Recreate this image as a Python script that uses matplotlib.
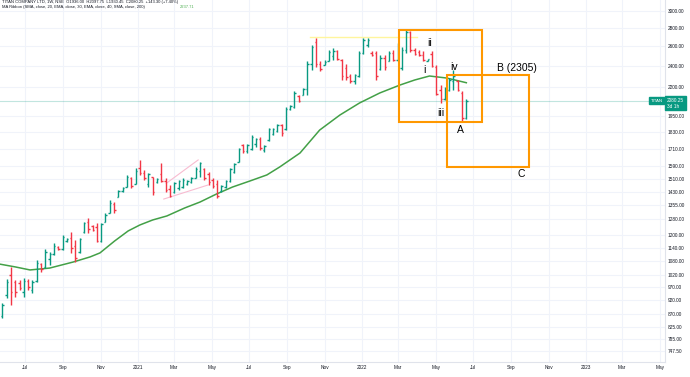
import matplotlib
matplotlib.use('Agg')
import matplotlib.pyplot as plt
import matplotlib.dates as mdates
import matplotlib.transforms as mtrans
from matplotlib.patches import Rectangle
from matplotlib.ticker import FixedLocator, FixedFormatter, NullLocator
import numpy as np
import pandas as pd

# ---------------- data ----------------
first_week = '2020-05-25'
opens = [862, 940, 1020, 990, 985, 950, 995, 960, 995, 1065,
         1055, 1090, 1110, 1145, 1135, 1170, 1185, 1150, 1120, 1215,
         1265, 1245, 1240, 1170, 1266, 1315, 1365, 1400, 1435, 1462,
         1515, 1480, 1580, 1550, 1480, 1520, 1490, 1540, 1500, 1450,
         1430, 1455, 1460, 1480, 1490, 1518, 1560, 1575, 1540, 1505,
         1480, 1435, 1460, 1495, 1555, 1620, 1735, 1690, 1710, 1740,
         1780, 1700, 1770, 1815, 1840, 1880, 1850, 2010, 2030, 2120,
         2130, 2180, 2420, 2640, 2420, 2410, 2445, 2500, 2550, 2460,
         2380, 2300, 2250, 2300, 2530, 2610, 2530, 2530, 2370, 2480,
         2450, 2530, 2460, 2380, 2560, 2750, 2560, 2540, 2510, 2450,
         2520, 2390, 2170, 2090, 2170, 2250, 2250, 2150, 1938]
highs = [910, 1003, 1053, 999, 999, 1007, 1003, 999, 1084, 1070,
         1135, 1120, 1160, 1148, 1201, 1185, 1215, 1177, 1187, 1266,
         1287, 1251, 1260, 1260, 1315, 1386, 1375, 1443, 1460, 1535,
         1525, 1578, 1632, 1566, 1548, 1525, 1516, 1612, 1516, 1473,
         1492, 1504, 1516, 1504, 1523, 1586, 1619, 1579, 1553, 1516,
         1504, 1473, 1504, 1579, 1612, 1714, 1742, 1742, 1807, 1785,
         1792, 1735, 1863, 1863, 1890, 1890, 2025, 2043, 2163, 2128,
         2190, 2445, 2611, 2686, 2445, 2455, 2558, 2580, 2558, 2465,
         2416, 2318, 2318, 2545, 2686, 2686, 2545, 2545, 2506, 2506,
         2545, 2558, 2637, 2590, 2790, 2760, 2580, 2558, 2545, 2470,
         2550, 2406, 2217, 2200, 2280, 2357, 2265, 2163, 2097.75]
lows = [857, 930, 902, 932, 959, 932, 959, 948, 991, 1033,
        1050, 1062, 1107, 1128, 1130, 1165, 1115, 1075, 1115, 1212,
        1212, 1221, 1165, 1165, 1266, 1315, 1315, 1400, 1430, 1460,
        1455, 1480, 1535, 1504, 1462, 1414, 1485, 1490, 1430, 1400,
        1425, 1443, 1455, 1473, 1485, 1516, 1523, 1504, 1473, 1455,
        1397, 1430, 1455, 1490, 1548, 1619, 1679, 1679, 1700, 1720,
        1700, 1686, 1764, 1807, 1830, 1800, 1844, 2002, 2022, 2070,
        2128, 2128, 2357, 2388, 2347, 2406, 2445, 2455, 2455, 2263,
        2263, 2235, 2230, 2290, 2520, 2590, 2496, 2263, 2357, 2357,
        2445, 2445, 2445, 2357, 2530, 2535, 2506, 2496, 2445, 2445,
        2390, 2128, 2060, 2085, 2165, 2172, 2163, 1906, 1930.45]
closes = [902, 990, 950, 950, 965, 995, 970, 990, 1070, 1045,
          1120, 1110, 1150, 1135, 1190, 1180, 1140, 1095, 1180, 1260,
          1230, 1228, 1170, 1255, 1305, 1370, 1330, 1435, 1455, 1520,
          1470, 1560, 1550, 1515, 1540, 1430, 1510, 1500, 1445, 1410,
          1485, 1495, 1505, 1500, 1515, 1575, 1610, 1515, 1490, 1470,
          1410, 1465, 1495, 1570, 1605, 1705, 1690, 1735, 1795, 1775,
          1715, 1730, 1855, 1855, 1880, 1820, 2010, 2035, 2150, 2080,
          2180, 2420, 2590, 2420, 2370, 2440, 2540, 2550, 2470, 2300,
          2290, 2250, 2310, 2530, 2660, 2670, 2505, 2300, 2480, 2390,
          2530, 2460, 2620, 2560, 2750, 2560, 2520, 2510, 2460, 2465,
          2400, 2140, 2090, 2180, 2260, 2300, 2170, 1937, 2080.25]

# moving-average line (at sample dates)
ma_dates = ['2020-05-21', '2020-06-15', '2020-07-09', '2020-08-10', '2020-09-17',
            '2020-10-15', '2020-10-31', '2020-11-24', '2020-12-16', '2021-01-04',
            '2021-01-25', '2021-02-17', '2021-03-18', '2021-04-12', '2021-05-09',
            '2021-06-04', '2021-07-02', '2021-07-30', '2021-08-20', '2021-09-22',
            '2021-10-24', '2021-11-26', '2021-12-28', '2022-01-30', '2022-03-04',
            '2022-03-28', '2022-04-21', '2022-05-19', '2022-06-20']
ma_values = [1066, 1054, 1041, 1049, 1075, 1098, 1116, 1172, 1221, 1251,
             1277, 1298, 1341, 1374, 1420, 1461, 1497, 1535, 1586, 1679,
             1844, 1961, 2060, 2146, 2217, 2263, 2300, 2281, 2237.71]

price_ticks = [3000, 2800, 2600, 2400, 2200, 1950, 1830, 1710, 1590, 1510,
               1430, 1355, 1280, 1200, 1140, 1080, 1020, 970, 920, 870,
               825, 785, 747.5]

# wave-count boxes: (start, end, top, bottom)
box1 = ('2022-03-03', '2022-07-15', 2776, 1906)
box2 = ('2022-05-19', '2022-09-30', 2309, 1586)
wave_labels = [('ii', '2022-04-21', 2631), ('i', '2022-04-13', 2357),
               ('iv', '2022-05-31', 2391), ('iii', '2022-05-09', 1981),
               ('A', '2022-06-11', 1844), ('B (2305)', '2022-09-10', 2377),
               ('C', '2022-09-17', 1541)]
top_line = ('2021-10-08', '2022-03-31', 2700)
pink_lines = [(('2021-02-16', 1483), ('2021-04-09', 1632)),
              (('2021-02-12', 1391), ('2021-04-25', 1473))]

last_close = 2080.25
ma_last = 2237.71

# ---------------- style ----------------
UP = '#089981'
DN = '#f23645'
ORANGE = '#ff9800'
GRID = '#f0f3fa'
TXT = '#131722'
FONT = 'Liberation Sans'
plt.rcParams['font.family'] = [FONT, 'DejaVu Sans']

W, H = 690, 377
fig = plt.figure(figsize=(W / 100, H / 100), dpi=100)
fig.patch.set_facecolor('white')
ax = fig.add_axes([0, 15 / H, 665 / W, 362 / H])
ax.set_yscale('log')

dates = pd.date_range(first_week, periods=len(opens), freq='7D')
d = mdates.date2num(dates)
o = np.array(opens, float)
c = np.array(closes, float)
colors = np.where(c >= o, UP, DN)
ax.vlines(d, lows, highs, colors=colors, lw=1.0, zorder=3)
ax.hlines(o, d - 2.4, d, colors=colors, lw=1.0, zorder=3)
ax.hlines(c, d, d + 2.4, colors=colors, lw=1.0, zorder=3)

ax.plot(mdates.date2num(pd.to_datetime(ma_dates)), ma_values, color='#43a047',
        lw=1.1, zorder=2, solid_joinstyle='round')

# current price line
ax.axhline(last_close, color=UP, lw=0.8, alpha=0.25, zorder=1)

# boxes
for (s, e, t, b) in (box1, box2):
    x0 = mdates.date2num(pd.Timestamp(s))
    x1 = mdates.date2num(pd.Timestamp(e))
    ax.add_patch(Rectangle((x0, b), x1 - x0, t - b, fill=False,
                           edgecolor=ORANGE, lw=1.5, zorder=4))

for txt, dt, p in wave_labels:
    ax.text(mdates.date2num(pd.Timestamp(dt)), p, txt, ha='center', va='center',
            fontsize=7.5, color='black', zorder=5)

ax.plot(mdates.date2num(pd.to_datetime([top_line[0], top_line[1]])),
        [top_line[2], top_line[2]], color='#fff59d', lw=1.0, zorder=2)
for (a, b) in pink_lines:
    ax.plot(mdates.date2num(pd.to_datetime([a[0], b[0]])), [a[1], b[1]],
            color='#f8bbd0', lw=0.8, zorder=2)

# limits
ref = pd.Timestamp('2021-01-01')
ppd = 0.6137
ax.set_xlim(mdates.date2num(ref - pd.Timedelta(days=138 / ppd)),
            mdates.date2num(ref + pd.Timedelta(days=(665 - 138) / ppd)))
ax.set_ylim(3000 * np.exp(-351 / 244.65), 3000 * np.exp(11 / 244.65))

# y axis
ax.yaxis.tick_right()
ax.yaxis.set_major_locator(FixedLocator(price_ticks))
ax.yaxis.set_major_formatter(FixedFormatter(['%.2f' % v for v in price_ticks]))
ax.yaxis.set_minor_locator(NullLocator())

# x axis month ticks
months = pd.date_range('2020-07-01', '2023-05-01', freq='2MS')
ax.set_xticks(mdates.date2num(months))
ax.set_xticklabels([str(m.year) if m.month == 1 else m.strftime('%b') for m in months])
ax.xaxis.set_minor_locator(NullLocator())

ax.tick_params(axis='both', length=0, labelsize=3.4, colors=TXT, pad=2)
ax.grid(True, color=GRID, lw=0.8, zorder=0)
ax.set_axisbelow(True)
for s in ('left', 'top'):
    ax.spines[s].set_visible(False)
for s in ('right', 'bottom'):
    ax.spines[s].set_color('#e0e3eb')
    ax.spines[s].set_linewidth(0.8)

# price tags
blend = mtrans.blended_transform_factory(ax.transAxes, ax.transData)
ax.annotate('%.2f\n3d 1h' % last_close, xy=(1, last_close), xycoords=blend,
            xytext=(1.5, 2.2), textcoords='offset points', ha='left', va='top',
            fontsize=3.4, color='white', linespacing=1.3, annotation_clip=False,
            bbox=dict(boxstyle='square,pad=0.35', fc=UP, ec=UP))
ax.annotate('TITAN', xy=(1, last_close), xycoords=blend,
            xytext=(-1.5, 1.3), textcoords='offset points', ha='right', va='top',
            fontsize=3.2, color='white', annotation_clip=False,
            bbox=dict(boxstyle='square,pad=0.3', fc=UP, ec=UP))

# header
fig.text(2 / W, 1 - 2.4 / H, 'TITAN COMPANY LTD, 1W, NSE  O1936.00  H2097.75  L1930.45  C2080.25  +143.30 (+7.40%)',
         fontsize=3.0, color=TXT, va='center', ha='left')
fig.text(2 / W, 1 - 7.2 / H, 'MA Ribbon (SMA, close, 20, EMA, close, 30, EMA, close, 40, SMA, close, 200)',
         fontsize=3.0, color=TXT, va='center', ha='left')
fig.text(180 / W, 1 - 7.2 / H, '%.2f' % ma_last, fontsize=3.0, color='#4caf50',
         va='center', ha='left')

fig.savefig('out.png', dpi=100, facecolor='white')
